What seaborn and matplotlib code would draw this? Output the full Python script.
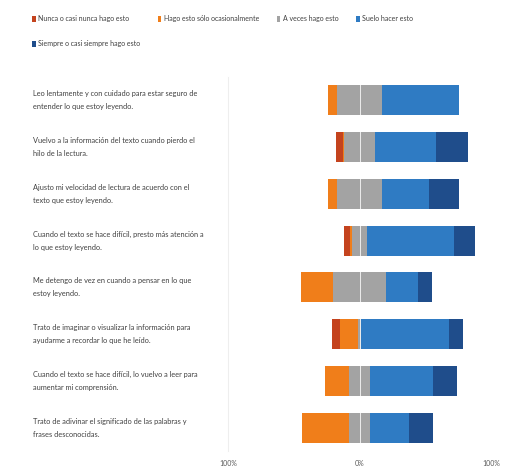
import matplotlib
matplotlib.use("Agg")
import matplotlib.pyplot as plt
import seaborn as sns
import pandas as pd
import numpy as np
from matplotlib.patches import Patch

categories = [
    "Leo lentamente y con cuidado para estar seguro de\nentender lo que estoy leyendo.",
    "Vuelvo a la información del texto cuando pierdo el\nhilo de la lectura.",
    "Ajusto mi velocidad de lectura de acuerdo con el\ntexto que estoy leyendo.",
    "Cuando el texto se hace difícil, presto más atención a\nlo que estoy leyendo.",
    "Me detengo de vez en cuando a pensar en lo que\nestoy leyendo.",
    "Trato de imaginar o visualizar la información para\nayudarme a recordar lo que he leído.",
    "Cuando el texto se hace difícil, lo vuelvo a leer para\naumentar mi comprensión.",
    "Trato de adivinar el significado de las palabras y\nfrases desconocidas.",
]
series_names = [
    "Nunca o casi nunca hago esto",
    "Hago esto sólo ocasionalmente",
    "A veces hago esto",
    "Suelo hacer esto",
    "Siempre o casi siempre hago esto",
]
nunca = [0, 5, 0, 5, 0, 6, 0, 0]
ocasional = [7, 1, 7, 1, 24, 14, 18, 36]
aveces = [34, 23, 34, 12, 41, 2, 16, 16]
suelo = [59, 47, 36, 66, 24, 67, 48, 30]
siempre = [0, 24, 23, 16, 11, 11, 18, 18]
tick_labels = ["100%", "0%", "100%"]

colors = ["#C4431E", "#F07E1A", "#A3A3A3", "#2F7BC3", "#1F4D8B"]

sns.set_theme(style="white")
plt.rcParams["font.family"] = ["Lato", "DejaVu Sans"]

n = np.array(nunca, float); o = np.array(ocasional, float); a = np.array(aveces, float)
s = np.array(suelo, float); si = np.array(siempre, float)
half = a / 2.0
idx = list(range(len(categories)))

fig = plt.figure(figsize=(5.14, 4.71), dpi=100)
ax = fig.add_axes([228 / 514, 1 - 451.4 / 471, (491 - 228) / 514, (451.4 - 76.6) / 471])

layers = [
    (-(half + o + n), colors[0]),
    (-(half + o), colors[1]),
    (-half, colors[2]),
    (half + s + si, colors[4]),
    (half + s, colors[3]),
    (half, colors[2]),
]
for vals, col in layers:
    df = pd.DataFrame({"cat": idx, "val": vals})
    sns.barplot(data=df, x="val", y="cat", orient="h", color=col, width=0.64,
                saturation=1, ax=ax, order=idx, linewidth=0, errorbar=None)

ax.axvline(0, color="white", lw=0.7, alpha=0.8, zorder=5)
ax.set_xlim(-100, 100)
ax.set_ylim(7.5, -0.5)
ax.set_xticks([-100, 0, 100])
ax.set_xticklabels(tick_labels, fontsize=5, color="#595959")
ax.set_yticks([])
ax.set_xlabel(""); ax.set_ylabel("")
ax.tick_params(axis="x", length=0, pad=6)
for sp in ax.spines.values():
    sp.set_visible(False)
ax.spines["left"].set_visible(True)
ax.spines["left"].set_color("#EEEEEE")
ax.spines["left"].set_linewidth(0.8)

for i, lab in enumerate(categories):
    ax.text(33 / 514, i, lab, transform=matplotlib.transforms.blended_transform_factory(fig.transFigure, ax.transData),
            ha="left", va="center", fontsize=5.3, color="#404040", linespacing=2.0)

handles = [Patch(facecolor=c, edgecolor="none") for c in colors]
order = [0, 4, 1, 2, 3]
fig.legend([handles[k] for k in order], [series_names[k] for k in order],
           loc="upper left", bbox_to_anchor=(26 / 514, 1 - 9 / 471),
           ncol=4, frameon=False, fontsize=5, handlelength=0.5, handleheight=1.0,
           handletextpad=0.3, columnspacing=2.6, labelspacing=2.6, labelcolor="#404040")

fig.savefig("out.png", dpi=100)
